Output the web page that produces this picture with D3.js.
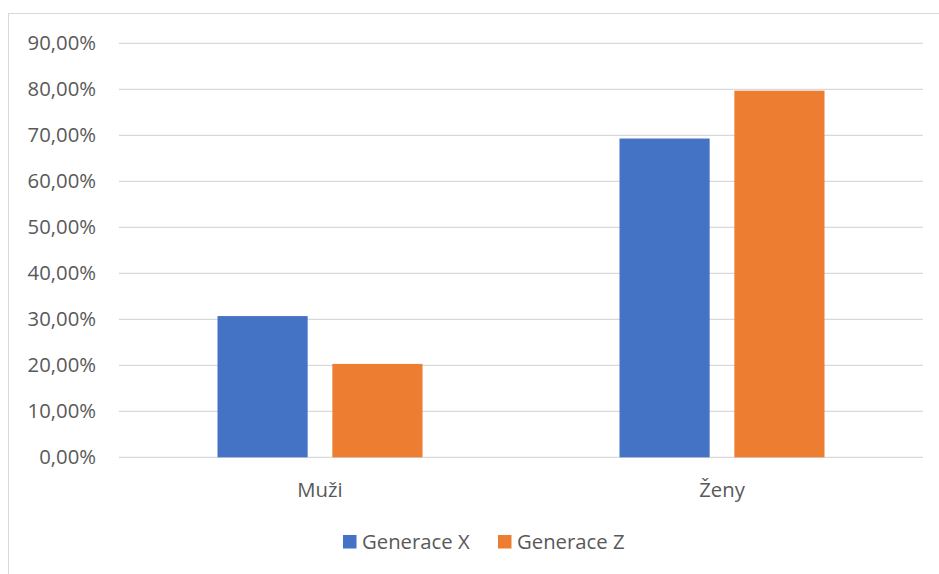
<!DOCTYPE html>
<html>
<head>
<meta charset="utf-8">
<script src="https://cdn.jsdelivr.net/npm/d3@7"></script>
<style>
  html, body { margin: 0; padding: 0; background: #fff; }
  svg { display: block; }
  text { font-family: "Open Sans", Lato, "Liberation Sans", sans-serif; fill: #595959; }
</style>
</head>
<body>
<svg id="chart" width="939" height="574"></svg>
<script>
// Share of respondents by gender, per generation
const categories = ["Muži", "Ženy"];
const seriesNames = ["Generace X", "Generace Z"];
const genX = [0.307, 0.693];
const genZ = [0.203, 0.797];
const yTicks = [0, 0.1, 0.2, 0.3, 0.4, 0.5, 0.6, 0.7, 0.8, 0.9];
const colors = ["#4472c4", "#ed7d31"];

const svg = d3.select("#chart");
const W = 939, H = 574;
const fontSize = 20.3;

// outer chart frame
svg.append("rect")
  .attr("x", 8.5).attr("y", 13.5)
  .attr("width", W).attr("height", H)
  .attr("fill", "#fff").attr("stroke", "#d9d9d9").attr("stroke-width", 1);

const plot = { left: 119, right: 923, top: 43.3, bottom: 457.3 };

const y = d3.scaleLinear().domain([0, 0.9]).range([plot.bottom, plot.top]);
const x0 = d3.scaleBand().domain(categories).range([plot.left, plot.right]).padding(0);
const groupW = 205;
const x1 = d3.scaleBand().domain(seriesNames).range([0, groupW]).paddingInner(0.215);

const fmt = v => d3.format(".2f")(v * 100).replace(".", ",") + "%";

// horizontal gridlines
svg.append("g").selectAll("line").data(yTicks).join("line")
  .attr("x1", plot.left).attr("x2", plot.right)
  .attr("y1", d => y(d)).attr("y2", d => y(d))
  .attr("stroke", "#d9d9d9").attr("stroke-width", 1.3);

// y axis labels
const yAxis = d3.axisLeft(y).tickValues(yTicks).tickFormat(fmt).tickSize(0).tickPadding(0);
const yG = svg.append("g").attr("transform", `translate(96,0)`).call(yAxis);
yG.select(".domain").remove();
yG.selectAll("text").attr("font-size", fontSize).attr("fill", "#595959")
  .style("font-family", '"Open Sans", Lato, sans-serif');

// bars
const rows = categories.map((c, i) => ({ cat: c, vals: [genX[i], genZ[i]] }));
const groups = svg.append("g").selectAll("g").data(rows).join("g")
  .attr("transform", d => `translate(${x0(d.cat) + (x0.bandwidth() - groupW) / 2},0)`);
groups.selectAll("rect").data(d => d.vals.map((v, j) => ({ s: seriesNames[j], v, j })))
  .join("rect")
  .attr("x", d => x1(d.s))
  .attr("width", x1.bandwidth())
  .attr("y", d => y(d.v))
  .attr("height", d => y(0) - y(d.v))
  .attr("fill", d => colors[d.j]);

// category axis labels
const xAxis = d3.axisBottom(x0).tickSize(0).tickPadding(0);
const xG = svg.append("g").attr("transform", `translate(0,${plot.bottom + 39.5})`).call(xAxis);
xG.select(".domain").remove();
xG.selectAll("text").attr("font-size", fontSize).attr("fill", "#595959").attr("dy", 0)
  .style("font-family", '"Open Sans", Lato, sans-serif');

// legend
const legendItems = [{ name: seriesNames[0], x: 343 }, { name: seriesNames[1], x: 498 }];
const lg = svg.append("g").selectAll("g").data(legendItems).join("g")
  .attr("transform", d => `translate(${d.x},535)`);
lg.append("rect").attr("width", 13.5).attr("height", 13.5).attr("fill", (d, i) => colors[i]);
lg.append("text").attr("x", 19).attr("y", 14).attr("font-size", fontSize).text(d => d.name);
</script>
</body>
</html>
